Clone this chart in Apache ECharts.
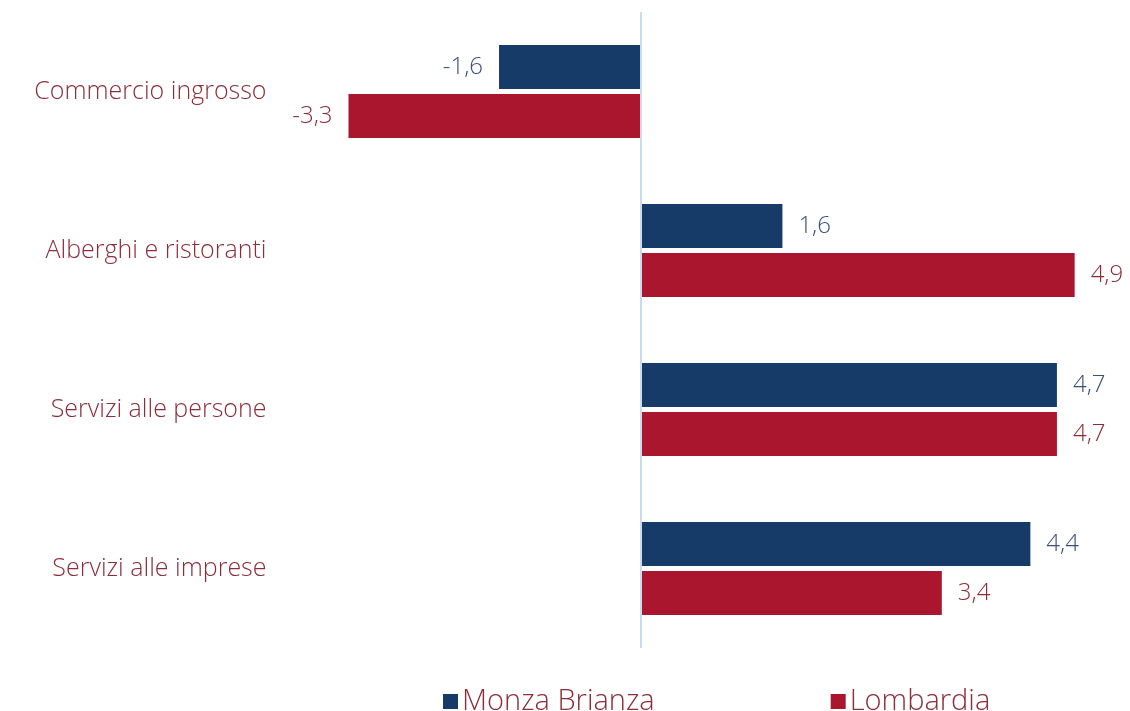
<!DOCTYPE html>
<html><head><meta charset="utf-8">
<script src="https://cdn.jsdelivr.net/npm/echarts@6/dist/echarts.min.js"></script>
<style>html,body{margin:0;padding:0;background:#fff}#c{width:1130px;height:711px}</style>
</head><body><div id="c"></div>
<script>
const categories = ["Commercio ingrosso", "Alberghi e ristoranti", "Servizi alle persone", "Servizi alle imprese"];
const seriesNames = ["Monza Brianza", "Lombardia"];
const monza = [-1.6, 1.6, 4.7, 4.4];
const lombardia = [-3.3, 4.9, 4.7, 3.4];

const FONT = "Open Sans";
function mk(vals) {
  return vals.map(v => ({
    value: v,
    label: { position: v < 0 ? 'left' : 'right' }
  }));
}
const chart = echarts.init(document.getElementById('c'));
chart.setOption({
  animation: false,
  textStyle: { fontFamily: FONT },
  grid: { left: 286.5, right: 46.5, top: 12, bottom: 63 },
  legend: {
    left: 438, top: 682, itemGap: 176, itemWidth: 15, itemHeight: 15, icon: 'rect',
    textStyle: { fontFamily: FONT, fontSize: 29, color: '#8B2E3A', fontWeight: 300, padding: [0,0,0,-1] },
    data: seriesNames
  },
  xAxis: { type: 'value', min: -4, max: 5, show: false, splitLine: { show: false } },
  yAxis: {
    type: 'category', data: categories, inverse: true,
    axisLine: { show: false }, axisTick: { show: false },
    axisLabel: { margin: 20, fontFamily: FONT, fontSize: 25, color: '#8B2E3A', fontWeight: 300 }
  },
  series: [
    {
      name: seriesNames[0], type: 'bar', data: mk(monza), barWidth: 44, barGap: '11%',
      itemStyle: { color: '#173B69' },
      label: { show: true, distance: 16, fontFamily: FONT, fontSize: 24, color: '#3A5177', fontWeight: 300,
        formatter: p => String(p.value).replace('.', ',') },
      markLine: {
        silent: true, symbol: 'none', label: { show: false },
        lineStyle: { color: '#C9DCF0', width: 2, type: 'solid' },
        data: [{ xAxis: 0 }]
      }
    },
    {
      name: seriesNames[1], type: 'bar', data: mk(lombardia), barWidth: 44,
      itemStyle: { color: '#AB162F' },
      label: { show: true, distance: 16, fontFamily: FONT, fontSize: 24, color: '#8C2B37', fontWeight: 300,
        formatter: p => String(p.value).replace('.', ',') }
    }
  ]
});
</script></body></html>
